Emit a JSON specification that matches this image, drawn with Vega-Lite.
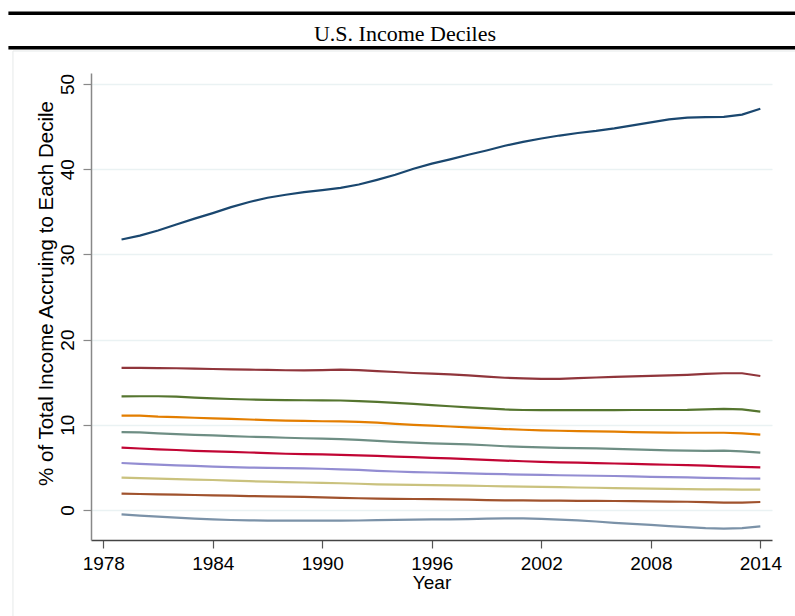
{
  "$schema": "https://vega.github.io/schema/vega-lite/v6.json",
  "autosize": {"type": "none"},
  "width": 681,
  "height": 467,
  "padding": {"left": 91, "top": 73, "right": 23, "bottom": 76},
  "background": "white",
  "config": {
    "view": {"stroke": null},
    "axis": {"labelFont": "Liberation Sans", "titleFont": "Liberation Sans", "labelFontSize": 19, "titleFontSize": 19, "labelColor": "black", "titleColor": "black", "titleFontWeight": "normal"}
  },
  "datasets": {
    "income": [
      {"year":1979,"decile":"D10","share":31.75},{"year":1980,"decile":"D10","share":32.2},{"year":1981,"decile":"D10","share":32.8},{"year":1982,"decile":"D10","share":33.5},{"year":1983,"decile":"D10","share":34.2},{"year":1984,"decile":"D10","share":34.85},{"year":1985,"decile":"D10","share":35.55},{"year":1986,"decile":"D10","share":36.15},{"year":1987,"decile":"D10","share":36.65},{"year":1988,"decile":"D10","share":37.0},{"year":1989,"decile":"D10","share":37.3},{"year":1990,"decile":"D10","share":37.55},{"year":1991,"decile":"D10","share":37.8},{"year":1992,"decile":"D10","share":38.2},{"year":1993,"decile":"D10","share":38.75},{"year":1994,"decile":"D10","share":39.35},{"year":1995,"decile":"D10","share":40.05},{"year":1996,"decile":"D10","share":40.65},{"year":1997,"decile":"D10","share":41.15},{"year":1998,"decile":"D10","share":41.7},{"year":1999,"decile":"D10","share":42.2},{"year":2000,"decile":"D10","share":42.75},{"year":2001,"decile":"D10","share":43.2},{"year":2002,"decile":"D10","share":43.6},{"year":2003,"decile":"D10","share":43.95},{"year":2004,"decile":"D10","share":44.25},{"year":2005,"decile":"D10","share":44.5},{"year":2006,"decile":"D10","share":44.8},{"year":2007,"decile":"D10","share":45.15},{"year":2008,"decile":"D10","share":45.5},{"year":2009,"decile":"D10","share":45.85},{"year":2010,"decile":"D10","share":46.05},{"year":2011,"decile":"D10","share":46.1},{"year":2012,"decile":"D10","share":46.15},{"year":2013,"decile":"D10","share":46.4},{"year":2014,"decile":"D10","share":47.1},
      {"year":1979,"decile":"D9","share":16.67},{"year":1980,"decile":"D9","share":16.67},{"year":1981,"decile":"D9","share":16.66},{"year":1982,"decile":"D9","share":16.64},{"year":1983,"decile":"D9","share":16.6},{"year":1984,"decile":"D9","share":16.55},{"year":1985,"decile":"D9","share":16.5},{"year":1986,"decile":"D9","share":16.47},{"year":1987,"decile":"D9","share":16.44},{"year":1988,"decile":"D9","share":16.4},{"year":1989,"decile":"D9","share":16.4},{"year":1990,"decile":"D9","share":16.42},{"year":1991,"decile":"D9","share":16.48},{"year":1992,"decile":"D9","share":16.42},{"year":1993,"decile":"D9","share":16.3},{"year":1994,"decile":"D9","share":16.2},{"year":1995,"decile":"D9","share":16.08},{"year":1996,"decile":"D9","share":16.0},{"year":1997,"decile":"D9","share":15.92},{"year":1998,"decile":"D9","share":15.8},{"year":1999,"decile":"D9","share":15.65},{"year":2000,"decile":"D9","share":15.52},{"year":2001,"decile":"D9","share":15.45},{"year":2002,"decile":"D9","share":15.4},{"year":2003,"decile":"D9","share":15.4},{"year":2004,"decile":"D9","share":15.47},{"year":2005,"decile":"D9","share":15.55},{"year":2006,"decile":"D9","share":15.62},{"year":2007,"decile":"D9","share":15.68},{"year":2008,"decile":"D9","share":15.74},{"year":2009,"decile":"D9","share":15.8},{"year":2010,"decile":"D9","share":15.87},{"year":2011,"decile":"D9","share":15.98},{"year":2012,"decile":"D9","share":16.05},{"year":2013,"decile":"D9","share":16.05},{"year":2014,"decile":"D9","share":15.73},
      {"year":1979,"decile":"D8","share":13.34},{"year":1980,"decile":"D8","share":13.35},{"year":1981,"decile":"D8","share":13.35},{"year":1982,"decile":"D8","share":13.3},{"year":1983,"decile":"D8","share":13.2},{"year":1984,"decile":"D8","share":13.1},{"year":1985,"decile":"D8","share":13.03},{"year":1986,"decile":"D8","share":12.97},{"year":1987,"decile":"D8","share":12.92},{"year":1988,"decile":"D8","share":12.9},{"year":1989,"decile":"D8","share":12.88},{"year":1990,"decile":"D8","share":12.87},{"year":1991,"decile":"D8","share":12.85},{"year":1992,"decile":"D8","share":12.78},{"year":1993,"decile":"D8","share":12.7},{"year":1994,"decile":"D8","share":12.58},{"year":1995,"decile":"D8","share":12.45},{"year":1996,"decile":"D8","share":12.3},{"year":1997,"decile":"D8","share":12.18},{"year":1998,"decile":"D8","share":12.05},{"year":1999,"decile":"D8","share":11.92},{"year":2000,"decile":"D8","share":11.8},{"year":2001,"decile":"D8","share":11.74},{"year":2002,"decile":"D8","share":11.72},{"year":2003,"decile":"D8","share":11.72},{"year":2004,"decile":"D8","share":11.73},{"year":2005,"decile":"D8","share":11.73},{"year":2006,"decile":"D8","share":11.73},{"year":2007,"decile":"D8","share":11.74},{"year":2008,"decile":"D8","share":11.74},{"year":2009,"decile":"D8","share":11.74},{"year":2010,"decile":"D8","share":11.75},{"year":2011,"decile":"D8","share":11.82},{"year":2012,"decile":"D8","share":11.86},{"year":2013,"decile":"D8","share":11.8},{"year":2014,"decile":"D8","share":11.54},
      {"year":1979,"decile":"D7","share":11.07},{"year":1980,"decile":"D7","share":11.07},{"year":1981,"decile":"D7","share":10.95},{"year":1982,"decile":"D7","share":10.9},{"year":1983,"decile":"D7","share":10.83},{"year":1984,"decile":"D7","share":10.76},{"year":1985,"decile":"D7","share":10.7},{"year":1986,"decile":"D7","share":10.62},{"year":1987,"decile":"D7","share":10.55},{"year":1988,"decile":"D7","share":10.5},{"year":1989,"decile":"D7","share":10.46},{"year":1990,"decile":"D7","share":10.42},{"year":1991,"decile":"D7","share":10.4},{"year":1992,"decile":"D7","share":10.35},{"year":1993,"decile":"D7","share":10.25},{"year":1994,"decile":"D7","share":10.12},{"year":1995,"decile":"D7","share":10.0},{"year":1996,"decile":"D7","share":9.9},{"year":1997,"decile":"D7","share":9.8},{"year":1998,"decile":"D7","share":9.7},{"year":1999,"decile":"D7","share":9.6},{"year":2000,"decile":"D7","share":9.5},{"year":2001,"decile":"D7","share":9.42},{"year":2002,"decile":"D7","share":9.35},{"year":2003,"decile":"D7","share":9.3},{"year":2004,"decile":"D7","share":9.26},{"year":2005,"decile":"D7","share":9.22},{"year":2006,"decile":"D7","share":9.19},{"year":2007,"decile":"D7","share":9.15},{"year":2008,"decile":"D7","share":9.12},{"year":2009,"decile":"D7","share":9.09},{"year":2010,"decile":"D7","share":9.07},{"year":2011,"decile":"D7","share":9.07},{"year":2012,"decile":"D7","share":9.07},{"year":2013,"decile":"D7","share":9.0},{"year":2014,"decile":"D7","share":8.84},
      {"year":1979,"decile":"D6","share":9.15},{"year":1980,"decile":"D6","share":9.1},{"year":1981,"decile":"D6","share":9.0},{"year":1982,"decile":"D6","share":8.9},{"year":1983,"decile":"D6","share":8.82},{"year":1984,"decile":"D6","share":8.76},{"year":1985,"decile":"D6","share":8.68},{"year":1986,"decile":"D6","share":8.6},{"year":1987,"decile":"D6","share":8.55},{"year":1988,"decile":"D6","share":8.48},{"year":1989,"decile":"D6","share":8.42},{"year":1990,"decile":"D6","share":8.37},{"year":1991,"decile":"D6","share":8.32},{"year":1992,"decile":"D6","share":8.22},{"year":1993,"decile":"D6","share":8.12},{"year":1994,"decile":"D6","share":8.0},{"year":1995,"decile":"D6","share":7.9},{"year":1996,"decile":"D6","share":7.82},{"year":1997,"decile":"D6","share":7.76},{"year":1998,"decile":"D6","share":7.7},{"year":1999,"decile":"D6","share":7.6},{"year":2000,"decile":"D6","share":7.48},{"year":2001,"decile":"D6","share":7.4},{"year":2002,"decile":"D6","share":7.35},{"year":2003,"decile":"D6","share":7.3},{"year":2004,"decile":"D6","share":7.27},{"year":2005,"decile":"D6","share":7.24},{"year":2006,"decile":"D6","share":7.18},{"year":2007,"decile":"D6","share":7.12},{"year":2008,"decile":"D6","share":7.05},{"year":2009,"decile":"D6","share":7.0},{"year":2010,"decile":"D6","share":6.96},{"year":2011,"decile":"D6","share":6.95},{"year":2012,"decile":"D6","share":6.96},{"year":2013,"decile":"D6","share":6.88},{"year":2014,"decile":"D6","share":6.73},
      {"year":1979,"decile":"D5","share":7.32},{"year":1980,"decile":"D5","share":7.22},{"year":1981,"decile":"D5","share":7.12},{"year":1982,"decile":"D5","share":7.04},{"year":1983,"decile":"D5","share":6.95},{"year":1984,"decile":"D5","share":6.88},{"year":1985,"decile":"D5","share":6.82},{"year":1986,"decile":"D5","share":6.75},{"year":1987,"decile":"D5","share":6.68},{"year":1988,"decile":"D5","share":6.6},{"year":1989,"decile":"D5","share":6.55},{"year":1990,"decile":"D5","share":6.52},{"year":1991,"decile":"D5","share":6.48},{"year":1992,"decile":"D5","share":6.42},{"year":1993,"decile":"D5","share":6.35},{"year":1994,"decile":"D5","share":6.27},{"year":1995,"decile":"D5","share":6.2},{"year":1996,"decile":"D5","share":6.12},{"year":1997,"decile":"D5","share":6.05},{"year":1998,"decile":"D5","share":5.97},{"year":1999,"decile":"D5","share":5.88},{"year":2000,"decile":"D5","share":5.8},{"year":2001,"decile":"D5","share":5.72},{"year":2002,"decile":"D5","share":5.65},{"year":2003,"decile":"D5","share":5.6},{"year":2004,"decile":"D5","share":5.55},{"year":2005,"decile":"D5","share":5.5},{"year":2006,"decile":"D5","share":5.46},{"year":2007,"decile":"D5","share":5.41},{"year":2008,"decile":"D5","share":5.36},{"year":2009,"decile":"D5","share":5.31},{"year":2010,"decile":"D5","share":5.27},{"year":2011,"decile":"D5","share":5.2},{"year":2012,"decile":"D5","share":5.13},{"year":2013,"decile":"D5","share":5.07},{"year":2014,"decile":"D5","share":5.0},
      {"year":1979,"decile":"D4","share":5.52},{"year":1980,"decile":"D4","share":5.42},{"year":1981,"decile":"D4","share":5.33},{"year":1982,"decile":"D4","share":5.25},{"year":1983,"decile":"D4","share":5.17},{"year":1984,"decile":"D4","share":5.09},{"year":1985,"decile":"D4","share":5.03},{"year":1986,"decile":"D4","share":4.98},{"year":1987,"decile":"D4","share":4.95},{"year":1988,"decile":"D4","share":4.92},{"year":1989,"decile":"D4","share":4.89},{"year":1990,"decile":"D4","share":4.84},{"year":1991,"decile":"D4","share":4.78},{"year":1992,"decile":"D4","share":4.7},{"year":1993,"decile":"D4","share":4.6},{"year":1994,"decile":"D4","share":4.52},{"year":1995,"decile":"D4","share":4.45},{"year":1996,"decile":"D4","share":4.4},{"year":1997,"decile":"D4","share":4.35},{"year":1998,"decile":"D4","share":4.3},{"year":1999,"decile":"D4","share":4.25},{"year":2000,"decile":"D4","share":4.2},{"year":2001,"decile":"D4","share":4.16},{"year":2002,"decile":"D4","share":4.12},{"year":2003,"decile":"D4","share":4.08},{"year":2004,"decile":"D4","share":4.05},{"year":2005,"decile":"D4","share":4.02},{"year":2006,"decile":"D4","share":3.99},{"year":2007,"decile":"D4","share":3.95},{"year":2008,"decile":"D4","share":3.9},{"year":2009,"decile":"D4","share":3.86},{"year":2010,"decile":"D4","share":3.83},{"year":2011,"decile":"D4","share":3.78},{"year":2012,"decile":"D4","share":3.74},{"year":2013,"decile":"D4","share":3.7},{"year":2014,"decile":"D4","share":3.68},
      {"year":1979,"decile":"D3","share":3.8},{"year":1980,"decile":"D3","share":3.74},{"year":1981,"decile":"D3","share":3.68},{"year":1982,"decile":"D3","share":3.62},{"year":1983,"decile":"D3","share":3.57},{"year":1984,"decile":"D3","share":3.52},{"year":1985,"decile":"D3","share":3.45},{"year":1986,"decile":"D3","share":3.38},{"year":1987,"decile":"D3","share":3.32},{"year":1988,"decile":"D3","share":3.27},{"year":1989,"decile":"D3","share":3.23},{"year":1990,"decile":"D3","share":3.19},{"year":1991,"decile":"D3","share":3.14},{"year":1992,"decile":"D3","share":3.08},{"year":1993,"decile":"D3","share":3.02},{"year":1994,"decile":"D3","share":2.98},{"year":1995,"decile":"D3","share":2.95},{"year":1996,"decile":"D3","share":2.93},{"year":1997,"decile":"D3","share":2.9},{"year":1998,"decile":"D3","share":2.86},{"year":1999,"decile":"D3","share":2.82},{"year":2000,"decile":"D3","share":2.78},{"year":2001,"decile":"D3","share":2.75},{"year":2002,"decile":"D3","share":2.72},{"year":2003,"decile":"D3","share":2.68},{"year":2004,"decile":"D3","share":2.64},{"year":2005,"decile":"D3","share":2.61},{"year":2006,"decile":"D3","share":2.58},{"year":2007,"decile":"D3","share":2.55},{"year":2008,"decile":"D3","share":2.52},{"year":2009,"decile":"D3","share":2.49},{"year":2010,"decile":"D3","share":2.46},{"year":2011,"decile":"D3","share":2.43},{"year":2012,"decile":"D3","share":2.41},{"year":2013,"decile":"D3","share":2.4},{"year":2014,"decile":"D3","share":2.39},
      {"year":1979,"decile":"D2","share":1.92},{"year":1980,"decile":"D2","share":1.88},{"year":1981,"decile":"D2","share":1.84},{"year":1982,"decile":"D2","share":1.8},{"year":1983,"decile":"D2","share":1.76},{"year":1984,"decile":"D2","share":1.72},{"year":1985,"decile":"D2","share":1.68},{"year":1986,"decile":"D2","share":1.64},{"year":1987,"decile":"D2","share":1.6},{"year":1988,"decile":"D2","share":1.57},{"year":1989,"decile":"D2","share":1.53},{"year":1990,"decile":"D2","share":1.48},{"year":1991,"decile":"D2","share":1.43},{"year":1992,"decile":"D2","share":1.38},{"year":1993,"decile":"D2","share":1.34},{"year":1994,"decile":"D2","share":1.31},{"year":1995,"decile":"D2","share":1.29},{"year":1996,"decile":"D2","share":1.28},{"year":1997,"decile":"D2","share":1.25},{"year":1998,"decile":"D2","share":1.21},{"year":1999,"decile":"D2","share":1.17},{"year":2000,"decile":"D2","share":1.14},{"year":2001,"decile":"D2","share":1.12},{"year":2002,"decile":"D2","share":1.1},{"year":2003,"decile":"D2","share":1.09},{"year":2004,"decile":"D2","share":1.08},{"year":2005,"decile":"D2","share":1.07},{"year":2006,"decile":"D2","share":1.06},{"year":2007,"decile":"D2","share":1.04},{"year":2008,"decile":"D2","share":1.02},{"year":2009,"decile":"D2","share":0.99},{"year":2010,"decile":"D2","share":0.97},{"year":2011,"decile":"D2","share":0.92},{"year":2012,"decile":"D2","share":0.87},{"year":2013,"decile":"D2","share":0.86},{"year":2014,"decile":"D2","share":0.94},
      {"year":1979,"decile":"D1","share":-0.51},{"year":1980,"decile":"D1","share":-0.65},{"year":1981,"decile":"D1","share":-0.78},{"year":1982,"decile":"D1","share":-0.9},{"year":1983,"decile":"D1","share":-1.0},{"year":1984,"decile":"D1","share":-1.1},{"year":1985,"decile":"D1","share":-1.17},{"year":1986,"decile":"D1","share":-1.21},{"year":1987,"decile":"D1","share":-1.24},{"year":1988,"decile":"D1","share":-1.25},{"year":1989,"decile":"D1","share":-1.25},{"year":1990,"decile":"D1","share":-1.25},{"year":1991,"decile":"D1","share":-1.25},{"year":1992,"decile":"D1","share":-1.23},{"year":1993,"decile":"D1","share":-1.19},{"year":1994,"decile":"D1","share":-1.15},{"year":1995,"decile":"D1","share":-1.12},{"year":1996,"decile":"D1","share":-1.1},{"year":1997,"decile":"D1","share":-1.1},{"year":1998,"decile":"D1","share":-1.06},{"year":1999,"decile":"D1","share":-1.02},{"year":2000,"decile":"D1","share":-0.98},{"year":2001,"decile":"D1","share":-0.98},{"year":2002,"decile":"D1","share":-1.03},{"year":2003,"decile":"D1","share":-1.12},{"year":2004,"decile":"D1","share":-1.22},{"year":2005,"decile":"D1","share":-1.35},{"year":2006,"decile":"D1","share":-1.5},{"year":2007,"decile":"D1","share":-1.63},{"year":2008,"decile":"D1","share":-1.75},{"year":2009,"decile":"D1","share":-1.88},{"year":2010,"decile":"D1","share":-2.0},{"year":2011,"decile":"D1","share":-2.12},{"year":2012,"decile":"D1","share":-2.19},{"year":2013,"decile":"D1","share":-2.12},{"year":2014,"decile":"D1","share":-1.92}
    ],
    "header": [{"label": "U.S. Income Deciles"}]
  },
  "layer": [
    {
      "data": {"name": "header"},
      "mark": {"type": "rect", "fillOpacity": 0, "stroke": "#e6e9e9", "strokeWidth": 1},
      "encoding": {
        "x": {"datum": 1973.05, "type": "quantitative", "scale": {"domain": [1977.326, 2014.64], "nice": false, "zero": false}},
        "x2": {"datum": 2025},
        "y": {"datum": 53.87, "type": "quantitative", "scale": {"domain": [-3.52, 51.29], "nice": false, "zero": false}},
        "y2": {"datum": -20}
      }
    },
    {
      "data": {"name": "header"},
      "mark": {"type": "rule", "color": "black", "strokeWidth": 3.5},
      "encoding": {"x": {"datum": 1972.8}, "x2": {"datum": 2020}, "y": {"datum": 58.3}}
    },
    {
      "data": {"name": "header"},
      "mark": {"type": "rule", "color": "black", "strokeWidth": 3.5},
      "encoding": {"x": {"datum": 1972.8}, "x2": {"datum": 2020}, "y": {"datum": 54.26}}
    },
    {
      "data": {"name": "header"},
      "mark": {"type": "text", "font": "Liberation Serif", "fontSize": 22, "fontWeight": "normal", "color": "black", "align": "center", "baseline": "alphabetic"},
      "encoding": {"x": {"datum": 1994.53}, "y": {"datum": 55.1}, "text": {"field": "label", "type": "nominal"}}
    },
    {
      "data": {"name": "income"},
      "mark": {"type": "line", "strokeWidth": 2.2},
      "encoding": {
        "x": {
          "field": "year", "type": "quantitative",
          "scale": {"domain": [1977.326, 2014.64], "nice": false, "zero": false},
          "axis": {"values": [1978, 1984, 1990, 1996, 2002, 2008, 2014], "format": "d", "title": "Year", "grid": false, "tickSize": 8, "tickColor": "#555", "domainColor": "#444", "domainWidth": 1.5, "tickWidth": 1.2, "labelPadding": 6, "titlePadding": 0, "labelFlush": false, "labelOverlap": false}
        },
        "y": {
          "field": "share", "type": "quantitative",
          "scale": {"domain": [-3.52, 51.29], "nice": false, "zero": false},
          "axis": {"values": [0, 10, 20, 30, 40, 50], "title": "% of Total Income Accruing to Each Decile", "titleFontSize": 20.5, "titleY": 220, "grid": true, "gridColor": "#eaf2f3", "gridWidth": 1.5, "tickSize": 8, "tickColor": "#888", "domainColor": "#888", "domainWidth": 1.5, "tickWidth": 1.2, "labelAngle": 270, "labelAlign": "center", "labelBaseline": "bottom", "labelPadding": 6, "titlePadding": 2, "labelOverlap": false}
        },
        "color": {
          "field": "decile", "type": "nominal", "legend": null,
          "scale": {"domain": ["D10", "D9", "D8", "D7", "D6", "D5", "D4", "D3", "D2", "D1"], "range": ["#1a476f", "#90353b", "#55752f", "#e37e00", "#6e8e84", "#c10534", "#938dd2", "#cac27e", "#a0522d", "#7b92a8"]}
        }
      }
    }
  ]
}
